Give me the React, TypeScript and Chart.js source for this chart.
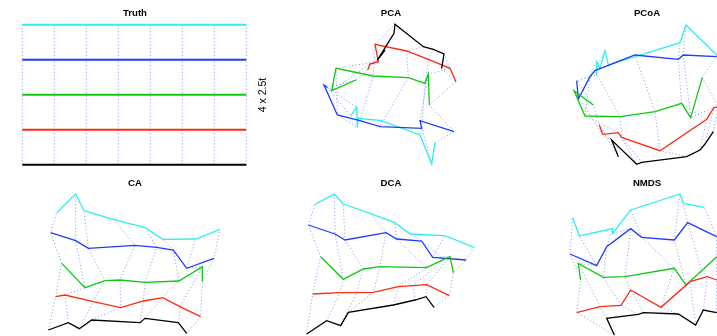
import React, { useEffect, useRef } from "react";
import { Chart, registerables } from "chart.js";

Chart.register(...registerables);

type Pt = [number, number];

// ---------- Truth (regular grid: 8 samples along 5 gradient rows) ----------
const truthCols = [1, 2, 3, 4, 5, 6, 7, 8];
const truthRows = [1, 2, 3, 4, 5];

// ---------- Ordination scores (axis1, axis2), rows: black, red, green, blue, cyan ----------
const pcaBlack: Pt[] = [[255, 150], [232, 180], [282, 100], [285, 73], [370, 140], [400, 148], [432, 162], [425, 205]];
const pcaRed: Pt[] = [[203, 210], [210, 192], [235, 185], [225, 133], [320, 153], [385, 178], [450, 205], [468, 245]];
const pcaGreen: Pt[] = [[168, 240], [95, 272], [108, 205], [220, 228], [325, 233], [375, 250], [385, 222], [388, 315]];
const pcaBlue: Pt[] = [[82, 262], [72, 255], [112, 345], [180, 362], [240, 380], [365, 385], [360, 362], [462, 395]];
const pcaCyan: Pt[] = [[152, 348], [170, 322], [172, 382], [175, 355], [245, 362], [360, 405], [395, 492], [405, 428]];

const pcoaBlack: Pt[] = [[205, 470], [185, 420], [260, 493], [275, 487], [410, 470], [450, 450], [465, 432], [490, 395]];
const pcoaRed: Pt[] = [[148, 375], [158, 403], [205, 398], [215, 412], [330, 452], [470, 358], [492, 322], [505, 322]];
const pcoaGreen: Pt[] = [[130, 315], [72, 272], [105, 348], [210, 350], [315, 335], [395, 310], [422, 353], [457, 232]];
const pcoaBlue: Pt[] = [[80, 242], [85, 297], [120, 230], [135, 212], [255, 165], [385, 178], [400, 165], [500, 170]];
const pcoaCyan: Pt[] = [[138, 225], [140, 185], [150, 205], [165, 152], [175, 195], [390, 128], [408, 75], [500, 165]];

const caBlack: Pt[] = [[55, 480], [115, 458], [148, 476], [185, 450], [330, 458], [345, 445], [445, 458], [470, 490]];
const caRed: Pt[] = [[77, 380], [105, 375], [190, 395], [272, 413], [340, 393], [398, 383], [450, 410], [512, 440]];
const caGreen: Pt[] = [[95, 280], [165, 353], [225, 332], [270, 330], [345, 337], [447, 333], [517, 290], [517, 335]];
const caBlue: Pt[] = [[62, 188], [137, 212], [175, 235], [315, 226], [380, 232], [430, 240], [470, 295], [552, 265]];
const caCyan: Pt[] = [[80, 128], [137, 72], [162, 122], [250, 148], [345, 173], [398, 208], [497, 207], [570, 178]];

const dcaBlack: Pt[] = [[50, 492], [110, 452], [152, 467], [175, 427], [310, 405], [375, 390], [408, 380], [432, 412]];
const dcaRed: Pt[] = [[68, 372], [150, 368], [200, 368], [250, 367], [325, 350], [370, 347], [410, 344], [478, 377]];
const dcaGreen: Pt[] = [[92, 260], [160, 328], [220, 297], [270, 290], [410, 293], [462, 268], [480, 260], [490, 308]];
const dcaBlue: Pt[] = [[55, 165], [135, 192], [165, 210], [288, 188], [320, 207], [395, 213], [428, 262], [528, 270]];
const dcaCyan: Pt[] = [[75, 103], [133, 72], [160, 102], [240, 130], [315, 158], [360, 192], [465, 197], [552, 232]];

const nmdsBlack: Pt[] = [[193, 495], [170, 445], [265, 433], [280, 428], [385, 432], [437, 465], [460, 420], [500, 428]];
const nmdsRed: Pt[] = [[80, 428], [150, 410], [213, 406], [242, 360], [333, 412], [420, 335], [472, 320], [500, 330]];
const nmdsGreen: Pt[] = [[92, 330], [85, 280], [160, 322], [225, 320], [373, 295], [408, 345], [455, 302], [500, 260]];
const nmdsBlue: Pt[] = [[60, 252], [140, 287], [170, 230], [242, 176], [275, 202], [373, 210], [413, 158], [500, 200]];
const nmdsCyan: Pt[] = [[68, 143], [88, 198], [188, 176], [188, 190], [242, 120], [390, 72], [400, 100], [463, 112]];

const rowColors = ["#000000", "#ff2a10", "#10c810", "#1e3cff", "#30eeee"];
const dotColor = "rgba(50,70,255,0.6)";
const FONT = '"Liberation Sans", Arial, Helvetica, sans-serif';

interface PanelDef {
  title: string;
  left: number;
  top: number;
  lines: Pt[][];
  x: [number, number];
  y: [number, number];
  reverseY: boolean;
  lineWidth: number;
}

const truthLines: Pt[][] = truthRows.map((r) => truthCols.map((c) => [c, r] as Pt));

const panels: PanelDef[] = [
  { title: "Truth", left: 7, top: 0, lines: truthLines, x: [0.522, 8.522], y: [0.849, 5.706], reverseY: false, lineWidth: 2 },
  { title: "PCA", left: 263, top: 0, lines: [pcaBlack, pcaRed, pcaGreen, pcaBlue, pcaCyan], x: [-111, 657], y: [0, 510], reverseY: true, lineWidth: 1.3 },
  { title: "PCoA", left: 519, top: 0, lines: [pcoaBlack, pcoaRed, pcoaGreen, pcoaBlue, pcoaCyan], x: [-93, 675], y: [0, 510], reverseY: true, lineWidth: 1.3 },
  { title: "CA", left: 7, top: 170, lines: [caBlack, caRed, caGreen, caBlue, caCyan], x: [-69, 699], y: [0, 510], reverseY: true, lineWidth: 1.3 },
  { title: "DCA", left: 263, top: 170, lines: [dcaBlack, dcaRed, dcaGreen, dcaBlue, dcaCyan], x: [-81, 687], y: [0, 510], reverseY: true, lineWidth: 1.3 },
  { title: "NMDS", left: 519, top: 170, lines: [nmdsBlack, nmdsRed, nmdsGreen, nmdsBlue, nmdsCyan], x: [-93, 675], y: [0, 510], reverseY: true, lineWidth: 1.3 },
];

const CELL_W = 256;
const CELL_H = 170;

function PanelChart({ p }: { p: PanelDef }) {
  const ref = useRef<HTMLCanvasElement>(null);
  useEffect(() => {
    if (!ref.current) return;
    const datasets: any[] = [];
    p.lines.forEach((ln, i) => {
      datasets.push({
        data: ln.map(([x, y]) => ({ x, y })),
        showLine: true,
        borderColor: rowColors[i],
        backgroundColor: rowColors[i],
        borderWidth: p.lineWidth,
        pointRadius: 0,
        tension: 0,
        order: 1,
      });
    });
    const nCols = p.lines[0].length;
    for (let j = 0; j < nCols; j++) {
      datasets.push({
        data: p.lines.map((ln) => ({ x: ln[j][0], y: ln[j][1] })),
        showLine: true,
        borderColor: dotColor,
        backgroundColor: dotColor,
        borderWidth: 1,
        borderDash: [1, 2.4],
        pointRadius: 0,
        tension: 0,
        order: 2,
      });
    }
    const chart = new Chart(ref.current, {
      type: "scatter",
      data: { datasets },
      options: {
        animation: false,
        responsive: false,
        events: [],
        layout: { padding: 0 },
        plugins: { legend: { display: false }, tooltip: { enabled: false }, title: { display: false } },
        scales: {
          x: { type: "linear", display: false, min: p.x[0], max: p.x[1] },
          y: { type: "linear", display: false, min: p.y[0], max: p.y[1], reverse: p.reverseY },
        },
      },
    });
    return () => chart.destroy();
  }, [p]);
  return (
    <>
      <canvas
        ref={ref}
        width={CELL_W}
        height={CELL_H}
        style={{ position: "absolute", left: p.left, top: p.top, width: CELL_W, height: CELL_H }}
      />
      <div
        style={{
          position: "absolute",
          left: p.left + CELL_W / 2 - 60,
          top: p.top + 7.5,
          width: 120,
          textAlign: "center",
          font: `bold 9.6px ${FONT}`,
          lineHeight: "10px",
          color: "#000",
        }}
      >
        {p.title}
      </div>
    </>
  );
}

export default function App() {
  return (
    <div
      style={{
        position: "absolute",
        left: 0,
        top: 0,
        width: 717,
        height: 336,
        overflow: "hidden",
        background: "#fff",
      }}
    >
      {panels.map((p) => (
        <PanelChart key={p.title} p={p} />
      ))}
      <div
        style={{
          position: "absolute",
          left: 262 - 30,
          top: 95 - 6,
          width: 60,
          height: 12,
          lineHeight: "12px",
          textAlign: "center",
          font: `10.5px ${FONT}`,
          color: "#000",
          transform: "rotate(-90deg)",
          whiteSpace: "nowrap",
        }}
      >
        4 x 2.5t
      </div>
    </div>
  );
}
